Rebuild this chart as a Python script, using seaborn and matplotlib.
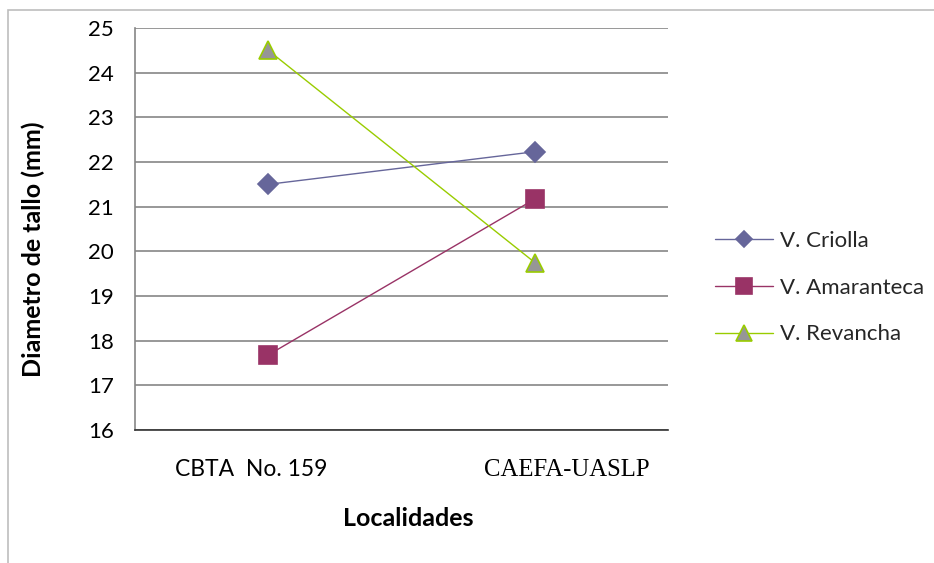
import matplotlib
matplotlib.use("Agg")
import matplotlib.pyplot as plt
from matplotlib.patches import Rectangle
from matplotlib.transforms import ScaledTranslation
import seaborn as sns
import pandas as pd

# Stem diameter by locality for three varieties
localidades = ["CBTA  No. 159", "CAEFA-UASLP"]
variedades = ["V. Criolla", "V. Amaranteca", "V. Revancha"]
criolla = [21.5, 22.23]
amaranteca = [17.68, 21.17]
revancha = [24.5, 19.75]
y_ticks = [16, 17, 18, 19, 20, 21, 22, 23, 24, 25]

line_colors = {"V. Criolla": "#66669A", "V. Amaranteca": "#993366", "V. Revancha": "#99CC00"}
face_colors = {"V. Criolla": "#66669A", "V. Amaranteca": "#993366", "V. Revancha": "#969696"}
marker_map = {"V. Criolla": "D", "V. Amaranteca": "s", "V. Revancha": "^"}
marker_sizes = {"V. Criolla": 10.5, "V. Amaranteca": 13, "V. Revancha": 13.5}
legend_marker_sizes = {"V. Criolla": 8.5, "V. Amaranteca": 11, "V. Revancha": 11.5}

rows = []
for name, vals in zip(variedades, [criolla, amaranteca, revancha]):
    for loc, v in zip(localidades, vals):
        rows.append({"Localidad": loc, "Variedad": name, "Diametro": v})
df = pd.DataFrame(rows)

sns.set_theme(style="white")
plt.rcParams["font.family"] = ["Lato", "DejaVu Sans"]

fig = plt.figure(figsize=(9.34, 5.63), dpi=100)
ax = fig.add_axes([135 / 934, 1 - 430 / 563, 533 / 934, 402 / 563])

sns.lineplot(data=df, x="Localidad", y="Diametro", hue="Variedad", style="Variedad",
             palette=line_colors, markers=marker_map, dashes=False, linewidth=1.0,
             ax=ax, legend=False, zorder=3)

# restyle each series' markers (fill / edge / size)
for line, name in zip(ax.get_lines(), variedades):
    line.set_markersize(marker_sizes[name])
    line.set_markerfacecolor(face_colors[name])
    line.set_markeredgecolor(line_colors[name])
    line.set_markeredgewidth(1.2)

ax.set_xlim(-0.5, 1.5)
ax.set_ylim(16, 25)
ax.set_yticks(y_ticks)
ax.yaxis.grid(True, color="#868686", linewidth=1.2)
ax.xaxis.grid(False)
ax.set_axisbelow(True)

for s in ["top", "right"]:
    ax.spines[s].set_visible(False)
ax.spines["left"].set_color("#868686")
ax.spines["left"].set_linewidth(1.2)
ax.spines["bottom"].set_color("#333333")
ax.spines["bottom"].set_linewidth(1.2)

ax.tick_params(axis="y", length=0, pad=15, labelsize=16, labelcolor="black")
ax.tick_params(axis="x", length=0, pad=21, labelsize=16.5, labelcolor="black")
xt = ax.get_xticklabels()
xt[1].set_fontfamily(["Liberation Serif"])
xt[1].set_fontsize(17.8)
# category labels sit slightly off-centre from their points
xt[0].set_transform(xt[0].get_transform() + ScaledTranslation(-17 / 100, 0, fig.dpi_scale_trans))
xt[1].set_transform(xt[1].get_transform() + ScaledTranslation(32 / 100, 0, fig.dpi_scale_trans))

ax.set_xlabel("Localidades", fontsize=18, fontweight="bold", color="black")
ax.xaxis.set_label_coords(0.512, -0.221)
ax.xaxis.label.set_va("center")
ax.set_ylabel("Diametro de tallo (mm)", fontsize=18, fontweight="bold", color="black")
ax.yaxis.set_label_coords(-0.191, 0.45)
ax.yaxis.label.set_va("center")

# legend built from the drawn series
handles = ax.get_lines()[:3]
leg = fig.legend(handles, variedades, loc="upper left",
                 bbox_to_anchor=(704 / 934, 1 - 220 / 563), frameon=False,
                 fontsize=16, handlelength=2.6, handletextpad=0.3, labelspacing=1.2,
                 borderpad=0)
for h, name in zip(leg.legend_handles, variedades):
    h.set_markersize(legend_marker_sizes[name])

# chart area outline (left and top edges)
fig.add_artist(Rectangle((8 / 934, -0.1), 1.2, 1 - 10 / 563 + 0.1,
                         transform=fig.transFigure, fill=False,
                         edgecolor="#bdbdbd", linewidth=1.2, zorder=0))

fig.savefig("out.png", dpi=100)
